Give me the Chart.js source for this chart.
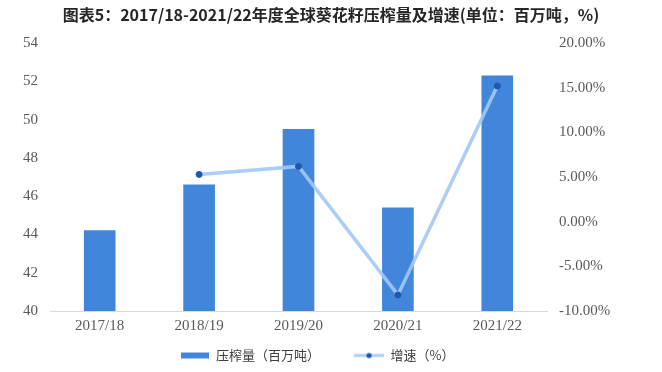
<!DOCTYPE html>
<html>
<head>
<meta charset="utf-8">
<script src="https://cdn.jsdelivr.net/npm/chart.js@4/dist/chart.umd.min.js"></script>
<style>
  html, body { margin: 0; padding: 0; background: #fff; }
  #wrap { width: 662px; height: 372px; }
</style>
</head>
<body>
<div id="wrap"><canvas id="composition" width="662" height="372"></canvas></div>
<script>
// data
var years = ['2017/18', '2018/19', '2019/20', '2020/21', '2021/22'];
var crush = [44.2, 46.6, 49.5, 45.4, 52.3];          // 百万吨
var growth = [null, 5.3, 6.2, -8.2, 15.2];           // %
var left_ticks = [40, 42, 44, 46, 48, 50, 52, 54];
var right_ticks = [-10, -5, 0, 5, 10, 15, 20];

var title_text = '图表5：2017/18-2021/22年度全球葵花籽压榨量及增速(单位：百万吨，%)';
var bar_label = '压榨量（百万吨）';
var line_label = '增速（%）';

var bar_color = '#4286dc';
var line_color = 'rgba(163, 200, 245, 0.9)';
var dot_color = '#1d58ac';
var tick_font = { family: '"Liberation Serif", serif', size: 15 };

// little legend icons
function bar_icon() {
    var c = document.createElement('canvas');
    c.width = 28; c.height = 8;
    var ctx = c.getContext('2d');
    ctx.fillStyle = bar_color;
    ctx.fillRect(0, 1, 28, 6);
    return c;
}
function line_icon() {
    var c = document.createElement('canvas');
    c.width = 30; c.height = 8;
    var ctx = c.getContext('2d');
    ctx.strokeStyle = line_color;
    ctx.lineWidth = 3;
    ctx.beginPath(); ctx.moveTo(0, 4); ctx.lineTo(30, 4); ctx.stroke();
    ctx.fillStyle = dot_color;
    ctx.beginPath(); ctx.arc(15, 4, 2.6, 0, Math.PI * 2); ctx.fill();
    return c;
}

// legend sits a bit left of centre; x labels hang below a thin x box
var fix_layout = {
    id: 'fix_layout',
    afterLayout: function(chart) {
        chart.legend.left -= 14;
        chart.legend.right -= 14;
        chart.scales.x.bottom = chart.height;
    }
};

function combo_chart(canvas) {
    var icons = [bar_icon(), line_icon()];
    var myChart = new Chart(canvas, {
        data: {
            labels: years,
            datasets: [
                {
                    type: 'line',
                    label: line_label,
                    data: growth,
                    yAxisID: 'y2',
                    borderColor: line_color,
                    borderWidth: 3.5,
                    pointRadius: 3,
                    pointBackgroundColor: dot_color,
                    pointBorderColor: dot_color,
                    pointBorderWidth: 1,
                    tension: 0,
                    order: 0,
                },
                {
                    type: 'bar',
                    label: bar_label,
                    data: crush,
                    yAxisID: 'y',
                    backgroundColor: bar_color,
                    barThickness: 31,
                    order: 1,
                },
            ],
        },
        plugins: [fix_layout],
        options: {
            responsive: false,
            animation: false,
            layout: { padding: { top: 4, left: 0, right: 0, bottom: 0 } },
            plugins: {
                title: {
                    display: true,
                    text: title_text,
                    color: '#262626',
                    font: { family: '"Noto Sans CJK SC", sans-serif', size: 16, weight: 'bold' },
                    padding: { top: 1, bottom: 19 },
                },
                legend: {
                    position: 'bottom',
                    labels: {
                        usePointStyle: true,
                        pointStyleWidth: 30,
                        padding: 34,
                        color: '#404040',
                        font: { family: '"Noto Sans CJK SC", sans-serif', size: 13 },
                        generateLabels: function(chart) {
                            return [
                                { text: bar_label, pointStyle: icons[0], datasetIndex: 1, fillStyle: bar_color, strokeStyle: bar_color, lineWidth: 0, fontColor: '#404040' },
                                { text: line_label, pointStyle: icons[1], datasetIndex: 0, fillStyle: dot_color, strokeStyle: dot_color, lineWidth: 0, fontColor: '#404040' },
                            ];
                        },
                    },
                },
                tooltip: { enabled: false },
            },
            scales: {
                x: {
                    afterFit: function(scale) { scale.height = 4; },
                    grid: { display: false, drawTicks: false },
                    border: { display: true, color: '#d9d9d9', width: 1 },
                    ticks: { color: '#595959', font: tick_font, padding: 6 },
                },
                y: {
                    position: 'left',
                    min: 40, max: 54,
                    afterBuildTicks: function(scale) { scale.ticks = left_ticks.map(function(v) { return { value: v }; }); },
                    afterFit: function(scale) { scale.width = 50; },
                    grid: { display: false, drawTicks: false },
                    border: { display: false },
                    ticks: { color: '#595959', font: tick_font, padding: 12 },
                },
                y2: {
                    position: 'right',
                    min: -10, max: 20,
                    afterBuildTicks: function(scale) { scale.ticks = right_ticks.map(function(v) { return { value: v }; }); },
                    afterFit: function(scale) { scale.width = 115; },
                    grid: { display: false, drawTicks: false },
                    border: { display: false },
                    ticks: {
                        color: '#595959', font: tick_font, padding: 12,
                        callback: function(v) { return v.toFixed(2) + '%'; },
                    },
                },
            },
        },
    });
    window.myChart = myChart;
}

combo_chart(document.getElementById('composition'));
</script>
</body>
</html>
